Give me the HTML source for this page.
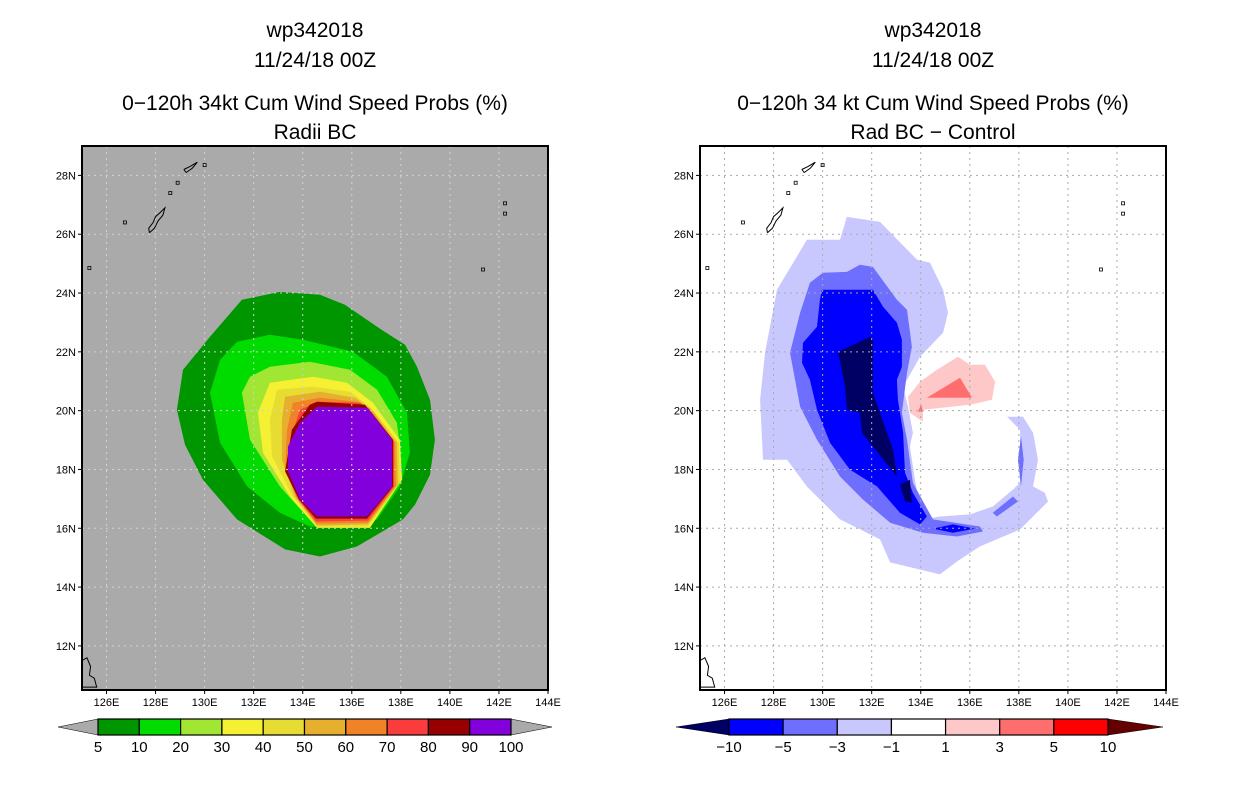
<!DOCTYPE html>
<html><head><meta charset="utf-8">
<style>
html,body{margin:0;padding:0;background:#fff;}
svg{display:block;}
text{font-family:"Liberation Sans",sans-serif;}
</style></head>
<body>
<svg id="root" width="1236" height="800" viewBox="0 0 1236 800" xmlns="http://www.w3.org/2000/svg">
<rect width="1236" height="800" fill="#fff"/>
<g id="left"></g>
<g id="right"></g>
</svg>
<script>
// ----- data -----
const lonTicks = [126,128,130,132,134,136,138,140,142,144];
const latTicks = [12,14,16,18,20,22,24,26,28];
const leftLevels = ["5","10","20","30","40","50","60","70","80","90","100"];
const leftColors = ["#009600","#00dc00","#a0e632","#f5f032","#e6dc32","#e6af2d","#f08228","#fa3c3c","#960000","#8200dc"];
const rightLevels = ["-10","-5","-3","-1","1","3","5","10"];
const rightColors = ["#000064","#0000ff","#6e6eff","#c8c8ff","#ffffff","#ffc8c8","#ff6e6e","#ff0000","#640000"];

const probP5  = [[133.07,24.04],[134.70,23.94],[135.72,23.60],[137.03,22.85],[138.17,22.24],[138.66,21.49],[139.19,20.37],[139.39,19.01],[139.19,17.82],[138.58,16.81],[138.09,16.30],[136.21,15.38],[134.70,15.04],[133.28,15.28],[131.32,16.30],[129.93,17.65],[129.20,18.84],[128.87,20.03],[129.12,21.39],[130.22,22.51],[131.52,23.77]];
const probP10 = [[132.66,22.58],[134.01,22.41],[136.05,22.00],[137.43,21.15],[138.25,19.93],[138.37,18.57],[137.96,17.42],[137.03,16.30],[135.93,16.02],[134.29,16.06],[133.07,16.53],[131.73,17.42],[130.63,18.91],[130.22,20.61],[130.63,21.73],[131.32,22.34]];
const probP20 = [[132.66,21.49],[134.29,21.66],[135.93,21.39],[137.03,20.71],[137.84,19.59],[137.96,18.78],[137.88,17.49],[136.74,16.02],[134.58,16.02],[133.07,17.42],[131.85,19.01],[131.52,20.61],[131.85,21.15]];
const probP30 = [[132.66,20.95],[134.42,21.15],[135.80,20.95],[136.86,20.27],[137.96,19.01],[138.05,17.65],[136.74,16.02],[134.58,16.02],[133.48,17.08],[132.38,18.57],[132.17,19.93]];
const probP40 = [[132.95,20.71],[134.42,20.81],[135.93,20.64],[136.74,20.13],[137.92,18.91],[137.96,17.55],[136.66,16.06],[134.58,16.06],[133.60,17.08],[132.75,18.44],[132.66,19.69]];
const probP50 = [[133.28,20.47],[134.70,20.64],[136.13,20.44],[136.82,20.03],[137.84,18.91],[137.88,17.49],[136.66,16.13],[134.58,16.09],[133.68,17.08],[133.15,18.33],[133.15,19.69]];
const probP60 = [[133.60,20.27],[134.70,20.44],[136.21,20.30],[136.74,20.03],[137.76,18.91],[137.80,17.45],[136.66,16.19],[134.58,16.16],[133.76,17.04],[133.28,17.99],[133.36,19.35]];
const probP70 = [[133.89,20.03],[134.62,20.30],[136.33,20.27],[136.70,20.07],[137.72,18.95],[137.72,17.42],[136.66,16.26],[134.54,16.23],[133.81,16.98],[133.36,17.89],[133.48,19.01]];
const probP80 = [[134.29,20.20],[134.58,20.30],[136.54,20.20],[137.68,19.01],[137.68,17.42],[136.62,16.33],[134.54,16.33],[133.85,16.98],[133.28,17.93],[133.56,19.35]];
const probP90 = [[134.58,20.13],[136.62,20.10],[137.64,19.01],[137.64,17.42],[136.62,16.40],[134.58,16.40],[133.89,16.98],[133.40,17.93],[133.40,18.78],[133.89,19.59]];

const diffM1 = [[130.99,26.59],[132.34,26.42],[133.85,25.13],[134.38,25.03],[134.91,24.11],[135.11,23.33],[134.91,22.65],[133.97,21.83],[133.28,20.81],[133.48,20.13],[133.68,19.25],[133.56,18.78],[133.76,17.65],[134.05,16.30],[134.78,16.40],[136.01,16.47],[136.94,16.74],[137.76,17.32],[138.05,17.55],[138.05,19.35],[137.52,19.79],[138.17,19.79],[138.58,19.25],[138.78,18.33],[138.58,17.42],[139.06,17.21],[139.19,16.91],[138.05,15.96],[136.41,15.38],[135.48,14.87],[134.78,14.43],[132.75,14.84],[132.34,15.62],[130.71,16.30],[129.36,17.42],[128.55,18.33],[127.57,18.33],[127.45,20.37],[127.65,21.97],[128.14,24.11],[129.36,25.81],[130.71,25.81]];
const diffM3 = [[130.99,24.72],[131.52,24.96],[132.05,24.89],[133.03,23.77],[133.44,23.43],[133.64,22.17],[133.44,21.29],[133.23,19.93],[133.44,19.01],[133.68,17.55],[134.05,16.98],[134.50,16.30],[136.41,16.06],[136.54,15.89],[135.48,15.72],[134.09,15.85],[132.75,16.19],[131.64,16.98],[130.71,17.76],[129.77,19.01],[129.08,20.13],[128.67,21.97],[129.08,23.33],[129.48,24.35],[130.01,24.69]];
const diffM3b = [[138.09,19.12],[138.20,18.33],[138.09,17.42],[137.96,18.33]];
const diffM3c = [[136.94,16.53],[137.76,17.08],[137.96,16.91],[137.10,16.40]];
const diffM5 = [[129.97,24.11],[132.05,24.11],[132.46,23.53],[133.03,22.99],[133.23,22.41],[133.23,21.49],[133.03,21.05],[133.07,20.37],[133.28,19.25],[133.36,17.89],[133.68,17.21],[134.25,16.40],[133.97,16.13],[133.15,16.53],[132.22,17.42],[131.12,17.99],[130.30,18.91],[129.77,20.03],[129.48,21.05],[129.16,21.63],[129.20,22.31],[129.77,22.85],[129.89,23.77]];
const diffM5b = [[134.50,15.99],[135.31,16.13],[136.21,15.99],[135.31,15.85]];
const diffM10 = [[130.63,22.00],[131.93,22.51],[132.05,22.41],[132.05,20.61],[132.34,19.93],[132.87,18.67],[133.03,17.76],[132.05,18.78],[131.60,19.25],[131.52,19.93],[130.99,20.03],[130.91,20.81]];
const diffM10b = [[133.15,17.49],[133.56,17.65],[133.64,16.87],[133.36,16.91]];
const diffP1 = [[135.52,21.83],[136.01,21.56],[136.62,21.56],[137.03,20.98],[136.90,20.37],[136.01,20.20],[134.09,20.03],[134.09,19.62],[133.56,19.93],[133.48,20.47],[133.97,20.98],[134.66,21.39]];
const diffP3 = [[134.25,20.44],[135.60,21.12],[136.09,20.44]];
const diffP3b = [[133.89,19.96],[134.09,19.96],[134.02,20.22]];

const coastRyukyu = [[127.75,26.05],[127.72,26.2],[127.9,26.4],[128.0,26.6],[128.2,26.75],[128.38,26.9],[128.3,26.65],[128.1,26.45],[127.95,26.2],[127.75,26.05]];
const coastAmami = [[129.15,28.2],[129.4,28.3],[129.7,28.45],[129.5,28.25],[129.25,28.1],[129.15,28.2]];
const coastPhil = [[125.0,11.5],[125.2,11.6],[125.35,11.3],[125.3,11.0],[125.5,10.9],[125.6,10.6],[125.0,10.6]];
const coastDots = [[126.75,26.4],[125.3,24.85],[128.9,27.75],[128.6,27.4],[130.0,28.35],[141.35,24.8],[142.25,27.05],[142.25,26.7]];

const NS = "http://www.w3.org/2000/svg";
const LON0 = 125, LON1 = 144, LAT0 = 10.5, LAT1 = 29;
function mk(tag, attrs, parent){const e=document.createElementNS(NS,tag);for(const k in attrs)e.setAttribute(k,attrs[k]);parent.appendChild(e);return e;}

function buildPanel(g, x0, frameFill, gridColor, regions, titleLines){
  const W = 466, y0 = 146, H = 544;
  const xs = lon => x0 + (lon-LON0)/(LON1-LON0)*W;
  const ys = lat => y0 + (LAT1-lat)/(LAT1-LAT0)*H;
  const cx = x0 + W/2;
  titleLines.forEach((t,i)=>{
    const tx = mk("text",{x:cx,y:[37,67,110,139][i],"text-anchor":"middle","font-size":"21","fill":"#000"},g);
    tx.textContent = t;
    
    
  });
  const bg = mk("rect",{x:x0,y:y0,width:W,height:H,fill:frameFill},g);
  
  
  const clipId = "clip"+x0;
  const cp = mk("clipPath",{id:clipId},g);
  mk("rect",{x:x0,y:y0,width:W,height:H},cp);
  const mg = mk("g",{"clip-path":"url(#"+clipId+")"},g);
  regions.forEach(r=>{
    const p = mk("polygon",{points:r.pts.map(q=>xs(q[0]).toFixed(1)+","+ys(q[1]).toFixed(1)).join(" "),fill:r.color},mg);
    
    
  });
  lonTicks.forEach(l=>{ if(l<LON1){
    const ln = mk("line",{x1:xs(l),x2:xs(l),y1:y0,y2:y0+H,stroke:gridColor,"stroke-width":1,"stroke-dasharray":"2,4"},mg);
    
    
  }});
  latTicks.forEach(l=>{
    const ln = mk("line",{x1:x0,x2:x0+W,y1:ys(l),y2:ys(l),stroke:gridColor,"stroke-width":1,"stroke-dasharray":"2,4"},mg);
    
    
  });
  [coastRyukyu, coastAmami, coastPhil].forEach(c=>{
    const p = mk("polyline",{points:c.map(q=>xs(q[0]).toFixed(1)+","+ys(q[1]).toFixed(1)).join(" "),fill:"none",stroke:"#000","stroke-width":1},mg);
    
    
  });
  coastDots.forEach(q=>{
    const c = mk("rect",{x:xs(q[0])-1.5,y:ys(q[1])-1.5,width:3,height:3,fill:"none",stroke:"#000","stroke-width":0.8},mg);
    
    
  });
  const fr = mk("rect",{x:x0,y:y0,width:W,height:H,fill:"none",stroke:"#000","stroke-width":2},g);
  
  
  lonTicks.forEach(l=>{
    mk("line",{x1:xs(l),x2:xs(l),y1:y0+H,y2:y0+H+4,stroke:"#000"},g);
    const t = mk("text",{x:xs(l),y:y0+H+16,"text-anchor":"middle","font-size":"11"},g);
    t.textContent = l+"E";
    
    
  });
  latTicks.forEach(l=>{
    mk("line",{x1:x0-4,x2:x0,y1:ys(l),y2:ys(l),stroke:"#000"},g);
    const t = mk("text",{x:x0-6,y:ys(l)+4,"text-anchor":"end","font-size":"11"},g);
    t.textContent = l+"N";
    
    
  });
}

function buildColorbar(g, tipL, bx0, bx1, tipR, colors, labels, triL, triR){
  const y0 = 719, y1 = 735, ym = 727;
  const segW = (bx1-bx0)/(labels.length-1);
  const tl = mk("polygon",{points:`${tipL},${ym} ${bx0},${y0} ${bx0},${y1}`,fill:triL,stroke:"#000","stroke-width":0.5},g);
  
  
  const tr = mk("polygon",{points:`${tipR},${ym} ${bx1},${y0} ${bx1},${y1}`,fill:triR,stroke:"#000","stroke-width":0.5},g);
  
  
  colors.forEach((c,i)=>{
    const r = mk("rect",{x:bx0+i*segW,y:y0,width:segW,height:y1-y0,fill:c,stroke:"#000","stroke-width":1.2},g);
    
    
  });
  labels.forEach((l,i)=>{
    const t = mk("text",{x:bx0+i*segW,y:752,"text-anchor":"middle","font-size":"15"},g);
    t.textContent = l.replace("-","\u2212");
    
    
  });
}

const L = document.getElementById("left");
const leftRegions = [probP5,probP10,probP20,probP30,probP40,probP50,probP60,probP70,probP80,probP90].map((p,i)=>({pts:p,color:leftColors[i],name:"prob-region-"+leftLevels[i]}));
buildPanel(L, 82, "#aaaaaa", "#d2d2d2", leftRegions, ["wp342018","11/24/18 00Z","0\u2212120h 34kt Cum Wind Speed Probs (%)","Radii BC"]);
buildColorbar(L, 58, 98, 511, 552, leftColors, leftLevels, "#aaaaaa", "#aaaaaa");

const R = document.getElementById("right");
const rightRegions = [
  {pts:diffM1,color:rightColors[3],name:"diff-region-minus1"},
  {pts:diffM3,color:rightColors[2],name:"diff-region-minus3"},
  {pts:diffM3b,color:rightColors[2],name:"diff-region-minus3-east"},
  {pts:diffM3c,color:rightColors[2],name:"diff-region-minus3-southeast"},
  {pts:diffM5,color:rightColors[1],name:"diff-region-minus5"},
  {pts:diffM5b,color:rightColors[1],name:"diff-region-minus5-south"},
  {pts:diffM10,color:rightColors[0],name:"diff-region-minus10"},
  {pts:diffM10b,color:rightColors[0],name:"diff-region-minus10-south"},
  {pts:diffP1,color:rightColors[5],name:"diff-region-plus1"},
  {pts:diffP3,color:rightColors[6],name:"diff-region-plus3"},
  {pts:diffP3b,color:rightColors[6],name:"diff-region-plus3-west"}
];
buildPanel(R, 700, "#ffffff", "#aaaaaa", rightRegions, ["wp342018","11/24/18 00Z","0\u2212120h 34 kt Cum Wind Speed Probs (%)","Rad BC \u2212 Control"]);
buildColorbar(R, 676, 729, 1108, 1163, rightColors.slice(1,8), rightLevels, rightColors[0], rightColors[8]);
</script>
</body></html>
